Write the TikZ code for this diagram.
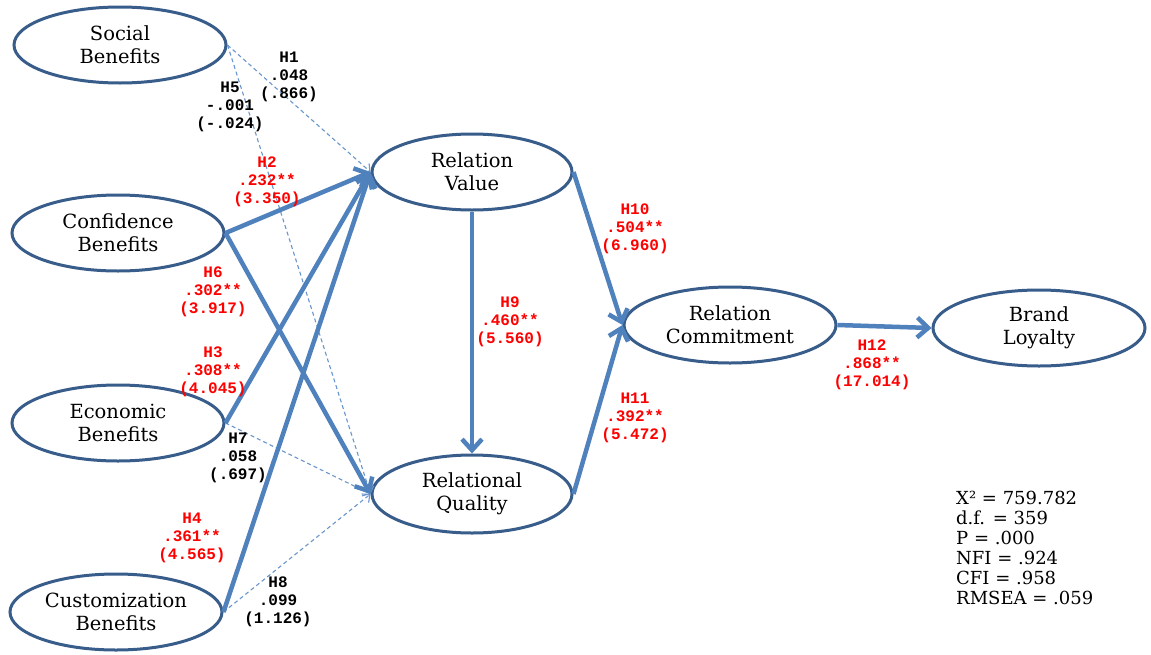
\documentclass[tikz,border=0pt]{standalone}
\usepackage{fontspec}
\setmainfont{DejaVu Serif}
\newfontfamily\labfont{Liberation Mono}
\usetikzlibrary{arrows.meta,shapes.geometric}
\definecolor{ebord}{RGB}{56,93,138}
\definecolor{arr}{RGB}{79,129,189}
\definecolor{darr}{RGB}{105,150,205}
\begin{document}
\begin{tikzpicture}[x=1pt,y=-1pt,
  latent/.style={ellipse, draw=ebord, line width=3pt, fill=white,
    minimum width=212pt, minimum height=76pt, inner sep=0pt, align=center,
    font=\fontsize{19.5}{23}\selectfont},
  thickarrow/.style={draw=arr, line width=4.5pt,
    -{Straight Barb[length=11pt,width=20pt]}},
  dasharrow/.style={draw=darr, line width=1.1pt, dash pattern=on 4pt off 3pt,
    -{Straight Barb[length=6pt,width=11pt]}},
  lab/.style={align=center, inner sep=0pt,
    font=\labfont\bfseries\fontsize{16}{18}\selectfont},
  redlab/.style={lab, text=red},
  stats/.style={align=left, anchor=north west, inner sep=0pt,
    font=\fontsize{18}{20}\selectfont}
]
\useasboundingbox (0,0) rectangle (1151,654);
\fill[white] (0,0) rectangle (1151,654);

% latent variables
\node[latent] (soc) at (120,45) {Social\\Benefits};
\node[latent] (conf) at (118,233) {Confidence\\Benefits};
\node[latent] (eco) at (118,423) {Economic\\Benefits};
\node[latent] (cust) at (116,612) {Customization\\Benefits};
\node[latent, minimum width=200pt] (rv) at (472,172) {Relation\\Value};
\node[latent, minimum width=200pt, minimum height=78pt] (rq) at (472,494) {Relational\\Quality};
\node[latent] (rc) at (730,325) {Relation\\Commitment};
\node[latent] (bl) at (1039,328) {Brand\\Loyalty};

% non-significant paths
\draw[dasharrow] (soc.east) -- (rv.west);
\draw[dasharrow] (soc.east) -- (rq.west);
\draw[dasharrow] (eco.east) -- (rq.west);
\draw[dasharrow] (cust.east) -- (rq.west);

% significant paths
\draw[thickarrow] (conf.east) -- (rv.west);
\draw[thickarrow] (conf.east) -- (rq.west);
\draw[thickarrow] (eco.east) -- (rv.west);
\draw[thickarrow] (cust.east) -- (rv.west);
\draw[thickarrow] (rv.south) -- (rq.north);
\draw[thickarrow] (rv.east) -- (rc.west);
\draw[thickarrow] (rq.east) -- (rc.west);
\draw[thickarrow] (rc.east) -- (bl.west);

% labels
\node[lab] (l1) at (289,77) {H1\\.048\\(.866)};
\node[lab] (l5) at (230,107) {H5\\-.001\\(-.024)};
\node[redlab] (l2) at (267,182) {H2\\.232**\\(3.350)};
\node[redlab] (l6) at (213,292) {H6\\.302**\\(3.917)};
\node[redlab] (l3) at (213,372) {H3\\.308**\\(4.045)};
\node[lab] (l7) at (238,458) {H7\\.058\\(.697)};
\node[redlab] (l4) at (192,538) {H4\\.361**\\(4.565)};
\node[lab] (l8) at (278,602) {H8\\.099\\(1.126)};
\node[redlab] (l9) at (510,322) {H9\\.460**\\(5.560)};
\node[redlab] (l10) at (635,229) {H10\\.504**\\(6.960)};
\node[redlab] (l11) at (635,418) {H11\\.392**\\(5.472)};
\node[redlab] (l12) at (872,365) {H12\\.868**\\(17.014)};

% fit statistics
\node[stats] (fit) at (956,491) {X² = 759.782\\d.f. = 359\\P = .000\\NFI = .924\\CFI = .958\\RMSEA = .059};
\end{tikzpicture}
\end{document}
